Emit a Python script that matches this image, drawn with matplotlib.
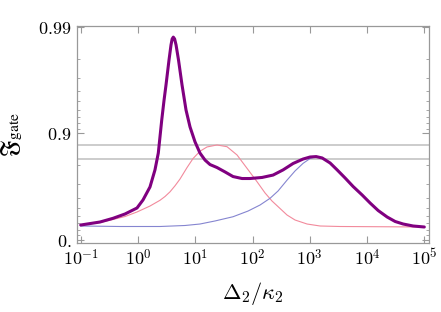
import numpy as np
import matplotlib
matplotlib.use('Agg')
import matplotlib.pyplot as plt

plt.rcParams['mathtext.fontset'] = 'cm'
plt.rcParams['font.family'] = 'serif'
plt.rcParams['font.serif'] = ['DejaVu Serif']

# log10(Delta_2 / kappa_2) and gate fidelity
thick_logx = [-1.0, -0.663, -0.436, -0.226, -0.017, 0.088, 0.210, 0.297, 0.355,
              0.415, 0.455, 0.490, 0.542, 0.577, 0.597, 0.617, 0.640, 0.665,
              0.708, 0.769, 0.839, 0.909, 0.996, 1.083, 1.171, 1.258, 1.380,
              1.521, 1.660, 1.817, 1.957, 2.167, 2.359, 2.534, 2.709, 2.883,
              3.006, 3.111, 3.216, 3.355, 3.478, 3.617, 3.757, 3.914, 4.054,
              4.194, 4.351, 4.491, 4.631, 4.805, 5.0]
thick_f = [0.2765, 0.322, 0.374, 0.430, 0.499, 0.579, 0.682, 0.780, 0.847,
           0.925, 0.951, 0.965, 0.9795, 0.9852, 0.987, 0.9875, 0.987, 0.9852,
           0.9795, 0.965, 0.9397, 0.913, 0.880, 0.847, 0.822, 0.804, 0.791,
           0.770, 0.746, 0.735, 0.735, 0.741, 0.754, 0.780, 0.8085, 0.826,
           0.8335, 0.835, 0.830, 0.8105, 0.780, 0.738, 0.685, 0.622, 0.550,
           0.471, 0.3915, 0.3295, 0.292, 0.261, 0.245]

pink_logx = [-1.0, -0.663, -0.436, -0.226, -0.017, 0.210, 0.385, 0.472, 0.560,
             0.647, 0.734, 0.857, 0.962, 1.083, 1.206, 1.380, 1.555, 1.730,
             1.904, 2.079, 2.219, 2.341, 2.481, 2.603, 2.743, 2.953, 3.180,
             3.529, 5.0]
pink_f = [0.2765, 0.315, 0.358, 0.398, 0.454, 0.520, 0.576, 0.609, 0.647,
          0.690, 0.732, 0.791, 0.828, 0.853, 0.866, 0.8716, 0.8667, 0.8406,
          0.7875, 0.716, 0.638, 0.569, 0.4936, 0.417, 0.3507, 0.292, 0.261,
          0.253, 0.245]

blue_logx = [-1.0, -0.313, 0.385, 0.822, 1.083, 1.345, 1.660, 1.922, 2.132,
             2.307, 2.446, 2.604, 2.743, 2.883, 3.006, 3.111, 3.216, 3.355,
             3.478, 3.617, 3.757, 3.914, 4.054, 4.194, 4.351, 4.491, 4.631,
             4.805, 5.0]
blue_f = [0.261, 0.253, 0.253, 0.269, 0.292, 0.337, 0.395, 0.465, 0.5305,
          0.594, 0.653, 0.726, 0.775, 0.809, 0.828, 0.835, 0.830, 0.8105,
          0.780, 0.738, 0.685, 0.622, 0.550, 0.471, 0.3915, 0.3295, 0.292,
          0.261, 0.245]

ref_lines = [0.8715, 0.826]


def fwd(f):
    return -np.log10(np.clip(1 - np.asarray(f, dtype=float), 1e-12, None))


def inv(t):
    return 1 - 10 ** (-np.asarray(t, dtype=float))


fig = plt.figure(figsize=(4.41, 3.12), dpi=100)
ax = fig.add_axes([0.1746, 0.2212, 0.7982, 0.6955])
ax.set_xscale('log')
ax.set_yscale('function', functions=(fwd, inv))

for y in ref_lines:
    ax.axhline(y, color='#cccccc', lw=1.4, zorder=1)

ax.plot(10 ** np.array(pink_logx), pink_f, color='#f28a9c', lw=0.8, zorder=2)
ax.plot(10 ** np.array(blue_logx), blue_f, color='#8585d0', lw=0.8, zorder=2)
ax.plot(10 ** np.array(thick_logx), thick_f, color='#800080', lw=2.2, zorder=3,
        solid_capstyle='round', solid_joinstyle='round')

ax.set_xlim(10 ** -1.0646, 10 ** 5.082)
ax.set_ylim(inv(-0.028), inv(2.0075))

ax.set_xticks([10.0 ** k for k in range(-1, 6)])
ax.set_xticklabels([r'$10^{%d}$' % k for k in range(-1, 6)])
ax.set_yticks([0, 0.9, 0.99])
ax.set_yticklabels([r'$0.$', r'$0.9$', r'$0.99$'])
ax.set_yticks([0.1, 0.2, 0.3, 0.4, 0.5, 0.6, 0.7, 0.8,
               0.91, 0.92, 0.93, 0.94, 0.95, 0.96, 0.97, 0.98], minor=True)

ax.tick_params(which='both', direction='in', top=True, right=True,
               color='#999999', labelsize=13, pad=4)
ax.tick_params(which='major', length=5, width=0.8)
ax.tick_params(which='minor', length=2.5, width=0.6)
for s in ax.spines.values():
    s.set_color('#999999')
    s.set_linewidth(0.9)

ax.set_xlabel(r'$\Delta_2/\kappa_2$', fontsize=16, labelpad=8)
ax.set_ylabel(r'$\mathfrak{F}_{\mathrm{gate}}$', fontsize=16,
              math_fontfamily='stix')
ax.yaxis.set_label_coords(-0.15, 0.5)

fig.savefig('out.png', dpi=100)
